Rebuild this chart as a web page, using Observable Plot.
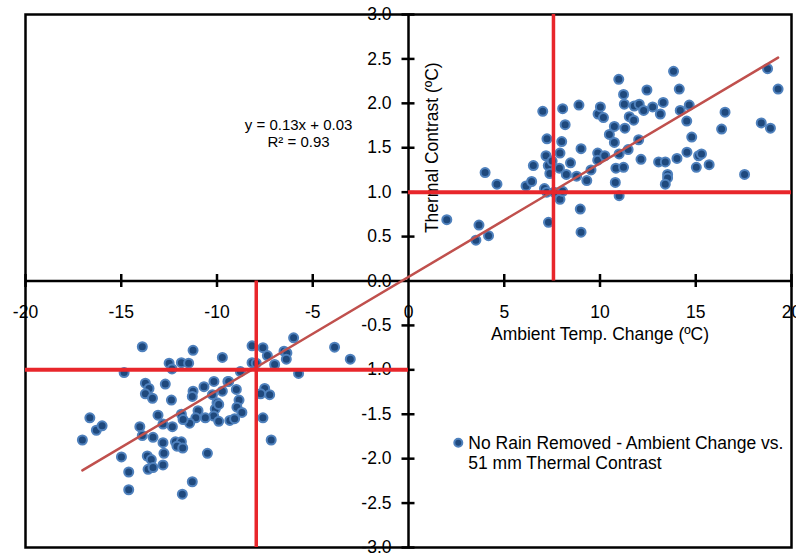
<!DOCTYPE html>
<html><head><meta charset="utf-8">
<script src="https://cdn.jsdelivr.net/npm/d3@7"></script>
<script src="https://cdn.jsdelivr.net/npm/@observablehq/plot@0.6"></script>
<style>body{margin:0;background:#fff;}</style>
</head><body><div id="chart"></div>
<script>
// Upper-right cluster (positive ambient change)
const upperX = [2.0,4.0,4.62,3.68,3.52,4.18,6.14,6.43,6.52,7.01,7.10,7.22,7.23,7.18,7.30,7.38,7.50,7.31,7.60,
  7.88,7.91,8.00,8.05,8.18,8.24,7.91,8.05,8.46,8.78,8.90,9.01,8.97,9.01,9.31,9.53,9.88,9.88,9.90,10.02,10.18,
  10.25,10.49,10.75,10.75,10.80,10.83,10.98,11.00,11.00,11.23,11.27,11.30,11.23,11.47,11.53,11.76,11.79,12.05,
  12.02,12.14,12.28,12.45,12.75,13.15,13.30,13.06,13.41,13.53,13.53,13.41,13.84,14.14,14.19,14.66,14.53,14.79,
  14.54,14.02,15.15,15.30,15.03,15.70,16.35,16.53,17.55,18.42,18.90,18.75,19.30];
const upperY = [0.69,1.22,1.09,0.63,0.46,0.51,1.07,1.12,1.30,1.91,1.04,1.00,1.60,1.41,1.30,1.21,1.35,0.66,1.00,
  1.27,1.44,1.57,1.94,1.76,1.20,0.92,1.01,1.33,1.18,1.98,1.49,0.81,0.55,1.13,1.25,1.44,1.36,1.88,1.96,1.84,
  1.41,1.65,1.74,1.56,1.11,1.27,2.27,0.96,1.43,2.10,1.99,1.72,1.28,1.48,1.85,1.81,1.97,1.99,
  1.59,1.37,1.92,2.15,1.96,1.88,2.01,1.34,1.34,1.20,1.16,1.09,2.36,2.16,1.92,1.98,1.80,1.62,
  1.45,1.38,1.41,1.43,1.28,1.31,1.71,1.90,1.20,1.78,1.72,2.39,2.16];
// Lower-left cluster (negative ambient change)
const lowerX = [-13.90,-11.25,-9.72,-12.50,-11.86,-11.48,-12.35,-14.85,-8.17,-7.60,-7.37,-8.17,-7.95,-6.00,-6.50,
  -6.35,-6.38,-6.99,-5.74,-3.86,-3.04,-8.78,-13.74,-13.55,-13.74,-13.37,-12.70,-12.38,-11.25,-11.29,-10.68,
  -10.16,-9.43,-9.72,-10.24,-8.99,-8.85,-8.96,-8.70,-7.51,-7.72,-7.25,-7.60,-7.17,-10.00,-10.09,-9.91,-10.17,
  -9.91,-9.33,-9.08,-10.61,-10.99,-11.11,-11.43,-11.86,-11.77,-13.08,-12.82,-12.33,-16.64,-16.30,-16.00,-17.03,
  -14.03,-13.90,-13.34,-12.82,-12.17,-11.86,-12.09,-11.79,-12.77,-10.50,-14.99,-13.64,-13.43,-13.60,-13.34,
  -12.82,-14.61,-14.61,-11.29,-11.81,-9.39];
const lowerY = [-0.74,-0.78,-0.86,-0.925,-0.92,-0.925,-0.99,-1.03,-0.73,-0.75,-0.84,-0.92,-0.925,-0.64,-0.79,
  -0.81,-0.88,-0.94,-1.04,-0.745,-0.88,-1.02,-1.15,-1.21,-1.27,-1.32,-1.16,-1.34,-1.24,-1.30,-1.19,
  -1.13,-1.13,-1.24,-1.28,-1.22,-1.34,-1.42,-1.48,-1.21,-1.27,-1.28,-1.54,-1.79,-1.37,-1.44,-1.39,-1.52,
  -1.58,-1.57,-1.55,-1.54,-1.46,-1.54,-1.60,-1.50,-1.56,-1.51,-1.61,-1.64,-1.54,-1.68,-1.63,-1.79,
  -1.64,-1.74,-1.76,-1.82,-1.81,-1.81,-1.86,-1.88,-1.94,-1.94,-1.98,-1.97,-2.01,-2.12,-2.10,
  -2.07,-2.15,-2.35,-2.26,-2.40,-1.13];

const xTicks = [-20,-15,-10,-5,0,5,10,15,20];
const yTicks = [-3,-2.5,-2,-1.5,-1,-0.5,0,0.5,1,1.5,2,2.5,3];
const refUpperX = 7.57, refUpperY = 1.0;
const refLowerX = -7.95, refLowerY = -1.0;
const xTitle = "Ambient Temp. Change (ºC)";
const yTitle = "Thermal Contrast (ºC)";
const eqText = "y = 0.13x + 0.03\nR² = 0.93";
const legendText = "No Rain Removed - Ambient Change vs.\n51 mm Thermal Contrast";
const eqPos = {x: -5.74, y: 1.67};
const legendPos = {x: 2.6, y: -1.82};

const points = upperX.map((x, i) => ({x, y: upperY[i]}))
  .concat(lowerX.map((x, i) => ({x, y: lowerY[i]})));

const red = "#e8262b";
const chart = Plot.plot({
  width: 796, height: 554,
  marginLeft: 25, marginRight: 5, marginTop: 14, marginBottom: 7,
  x: {domain: [-20, 20], axis: null},
  y: {domain: [-3, 3], axis: null},
  style: {fontFamily: "'Liberation Sans', Arial, sans-serif", fontSize: "17.5px", color: "black", background: "white"},
  marks: [
    Plot.frame({stroke: "black", strokeWidth: 2.5}),
    Plot.ruleX([0], {stroke: "black", strokeWidth: 2.5}),
    Plot.ruleY([0], {stroke: "black", strokeWidth: 2.5}),
    Plot.ruleX(xTicks.filter(d => d !== 0), {x: d => d, y1: 0, y2: 0, insetTop: -6.5, insetBottom: -6.5, stroke: "black", strokeWidth: 2.5}),
    Plot.ruleY(yTicks.filter(d => d !== 0), {y: d => d, x1: 0, x2: 0, insetLeft: -6.5, insetRight: -6.5, stroke: "black", strokeWidth: 2.5}),
    Plot.text(yTicks, {x: 0, y: d => d, text: d => d.toFixed(1), textAnchor: "end", dx: -17}),
    Plot.text(xTicks, {x: d => d, y: 0, text: d => String(d), dy: 31}),
    Plot.text([xTitle], {x: 10, y: 0, text: d => d, dy: 53}),
    Plot.text([yTitle], {x: 0, y: 1.5, text: d => d, rotate: -90, dx: 24}),
    Plot.dot(points, {x: "x", y: "y", r: 4.5, fill: "#1f497d", stroke: "#4f81bd", strokeWidth: 2}),
    Plot.linearRegressionY(points, {x: "x", y: "y", stroke: "#c0504d", strokeWidth: 2.5, ci: 0}),
    Plot.ruleX([refUpperX], {y1: 0, y2: 3, stroke: red, strokeWidth: 3.5}),
    Plot.ruleY([refUpperY], {x1: 0, x2: 20, stroke: red, strokeWidth: 4}),
    Plot.ruleX([refLowerX], {y1: -3, y2: 0, stroke: red, strokeWidth: 3.5}),
    Plot.ruleY([refLowerY], {x1: -20, x2: 0, stroke: red, strokeWidth: 4}),
    Plot.text([eqText], {x: eqPos.x, y: eqPos.y, text: d => d, fontSize: 15, lineHeight: 1.13}),
    Plot.dot([legendPos], {x: "x", y: "y", r: 4, fill: "#1f497d", stroke: "#4f81bd", strokeWidth: 2}),
    Plot.text([legendPos], {x: "x", y: "y", text: () => legendText, textAnchor: "start", dx: 10, dy: 10, lineHeight: 1.14})
  ]
});
document.getElementById("chart").appendChild(chart);
</script>
</body></html>
